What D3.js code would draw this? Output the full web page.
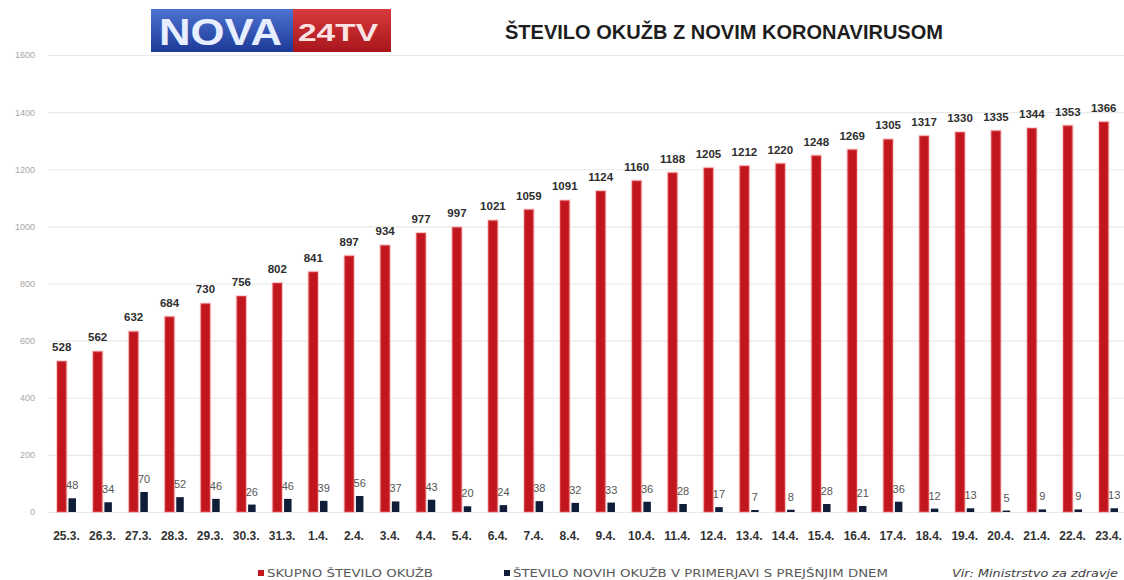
<!DOCTYPE html>
<html>
<head>
<meta charset="utf-8">
<script src="https://cdn.jsdelivr.net/npm/d3@7"></script>
<style>
  body { margin: 0; background: #fff; }
  svg { display: block; }
</style>
</head>
<body>
<svg id="chart"></svg>
<script>
const dates = ['25.3.', '26.3.', '27.3.', '28.3.', '29.3.', '30.3.', '31.3.', '1.4.', '2.4.', '3.4.',
  '4.4.', '5.4.', '6.4.', '7.4.', '8.4.', '9.4.', '10.4.', '11.4.', '12.4.', '13.4.',
  '14.4.', '15.4.', '16.4.', '17.4.', '18.4.', '19.4.', '20.4.', '21.4.', '22.4.', '23.4.']
const totalCases = [528, 562, 632, 684, 730, 756, 802, 841, 897, 934,
  977, 997, 1021, 1059, 1091, 1124, 1160, 1188, 1205, 1212,
  1220, 1248, 1269, 1305, 1317, 1330, 1335, 1344, 1353, 1366]
const newCases = [48, 34, 70, 52, 46, 26, 46, 39, 56, 37,
  43, 20, 24, 38, 32, 33, 36, 28, 17, 7,
  8, 28, 21, 36, 12, 13, 5, 9, 9, 13]
const yTicks = [0, 200, 400, 600, 800, 1000, 1200, 1400, 1600]
const seriesNames = ['SKUPNO ŠTEVILO OKUŽB', 'ŠTEVILO NOVIH OKUŽB V PRIMERJAVI S PREJŠNJIM DNEM']

const title = 'ŠTEVILO OKUŽB Z NOVIM KORONAVIRUSOM'
const source = 'Vir: Ministrstvo za zdravje'

const width = 1124
const height = 580
const red = '#c2161e'
const navy = '#0f1d38'

const svg = d3.select('svg#chart')
  .attr('width', width)
  .attr('height', height)

const data = dates.map((d, i) => ({ date: d, total: totalCases[i], fresh: newCases[i] }))

const x = d3.scaleBand()
  .domain(dates)
  .range([39, 1136])
  .paddingInner(0.47)
  .paddingOuter(0.5)

const y = d3.scaleLinear()
  .domain([0, 1600])
  .range([512, 55])

const redW = 9.5
const navyX = 11.5
const navyW = 7.5

// grid + y labels
const yAxis = svg.append('g')
  .attr('transform', 'translate(48,0)')
  .call(d3.axisLeft(y).tickValues(yTicks).tickSize(-(width - 48)).tickPadding(13).tickFormat(d3.format('d')))
yAxis.select('.domain').remove()
yAxis.selectAll('line').attr('stroke', '#e9e9e9').attr('stroke-width', 1.2)
yAxis.selectAll('text')
  .attr('fill', '#a6a6a6')
  .style('font-family', 'Liberation Sans, Arial, sans-serif')
  .style('font-size', '9px')

// x labels
const xAxis = svg.append('g')
  .attr('transform', 'translate(0,512)')
  .call(d3.axisBottom(x).tickSize(0).tickPadding(19))
xAxis.select('.domain').remove()
xAxis.selectAll('text')
  .attr('fill', '#333')
  .style('font-family', 'Liberation Sans, Arial, sans-serif')
  .style('font-size', '12px')
  .style('font-weight', 'bold')

// bars
const bars = svg.append('g')
bars.selectAll('.total')
  .data(data)
  .enter().append('rect')
  .attr('class', 'total')
  .attr('x', d => x(d.date))
  .attr('y', d => y(d.total))
  .attr('width', redW)
  .attr('height', d => y(0) - y(d.total))
  .attr('fill', red)
  .attr('stroke', 'rgba(240,120,120,0.35)')
  .attr('stroke-width', 2)

bars.selectAll('.fresh')
  .data(data)
  .enter().append('rect')
  .attr('class', 'fresh')
  .attr('x', d => x(d.date) + navyX)
  .attr('y', d => y(d.fresh))
  .attr('width', navyW)
  .attr('height', d => y(0) - y(d.fresh))
  .attr('fill', navy)

// value labels
svg.append('g').selectAll('text')
  .data(data)
  .enter().append('text')
  .attr('x', d => x(d.date) + redW / 2)
  .attr('y', d => y(d.total) - 10)
  .attr('text-anchor', 'middle')
  .attr('fill', '#2e2e2e')
  .style('font-family', 'Liberation Sans, Arial, sans-serif')
  .style('font-size', '11.5px')
  .style('font-weight', 'bold')
  .text(d => d.total)

svg.append('g').selectAll('text')
  .data(data)
  .enter().append('text')
  .attr('x', d => x(d.date) + navyX + navyW / 2)
  .attr('y', d => y(d.fresh) - 9)
  .attr('text-anchor', 'middle')
  .attr('fill', '#555')
  .style('font-family', 'Liberation Sans, Arial, sans-serif')
  .style('font-size', '11px')
  .text(d => d.fresh)

// logo
const defs = svg.append('defs')
const blueGrad = defs.append('linearGradient').attr('id', 'blueGrad').attr('x1', 0).attr('y1', 0).attr('x2', 0).attr('y2', 1)
blueGrad.append('stop').attr('offset', '0%').attr('stop-color', '#4d72d0')
blueGrad.append('stop').attr('offset', '100%').attr('stop-color', '#1c3a98')
const redGrad = defs.append('linearGradient').attr('id', 'redGrad').attr('x1', 0).attr('y1', 0).attr('x2', 0).attr('y2', 1)
redGrad.append('stop').attr('offset', '0%').attr('stop-color', '#d8393c')
redGrad.append('stop').attr('offset', '100%').attr('stop-color', '#a8161b')

const logo = svg.append('g')
logo.append('rect').attr('x', 151).attr('y', 9).attr('width', 142).attr('height', 43).attr('fill', 'url(#blueGrad)')
logo.append('rect').attr('x', 293).attr('y', 9).attr('width', 98).attr('height', 43).attr('fill', 'url(#redGrad)')
logo.append('text')
  .attr('x', 159).attr('y', 45)
  .attr('textLength', 123).attr('lengthAdjust', 'spacingAndGlyphs')
  .attr('fill', '#e6eeff')
  .style('font-family', 'Liberation Sans, Arial, sans-serif')
  .style('font-size', '37px')
  .style('font-weight', 'bold')
  .text('NOVA')
logo.append('text')
  .attr('x', 298).attr('y', 41)
  .attr('textLength', 80).attr('lengthAdjust', 'spacingAndGlyphs')
  .attr('fill', '#fbe3e3')
  .style('font-family', 'Liberation Sans, Arial, sans-serif')
  .style('font-size', '24px')
  .style('font-weight', 'bold')
  .text('24TV')

// title
svg.append('text')
  .attr('x', 505).attr('y', 39)
  .attr('textLength', 438).attr('lengthAdjust', 'spacingAndGlyphs')
  .attr('fill', '#1e1e1e')
  .style('font-family', 'Liberation Sans, Arial, sans-serif')
  .style('font-size', '20px')
  .style('font-weight', 'bold')
  .text(title)

// legend
const legend = svg.append('g')
const legendItems = [
  { name: seriesNames[0], color: red, mx: 258, tx: 267, len: 166 },
  { name: seriesNames[1], color: navy, mx: 504, tx: 513, len: 375 }
]
legendItems.forEach(it => {
  legend.append('rect')
    .attr('x', it.mx).attr('y', 570)
    .attr('width', 6).attr('height', 6)
    .attr('fill', it.color)
  legend.append('text')
    .attr('x', it.tx).attr('y', 577)
    .attr('textLength', it.len).attr('lengthAdjust', 'spacingAndGlyphs')
    .attr('fill', '#595959')
    .style('font-family', 'DejaVu Sans, sans-serif')
    .style('font-size', '10.5px')
    .text(it.name)
})
legend.append('text')
  .attr('x', 952).attr('y', 577)
  .attr('textLength', 166).attr('lengthAdjust', 'spacingAndGlyphs')
  .attr('fill', '#404040')
  .style('font-family', 'DejaVu Sans, sans-serif')
  .style('font-size', '10.5px')
  .style('font-style', 'italic')
  .text(source)
</script>
</body>
</html>
